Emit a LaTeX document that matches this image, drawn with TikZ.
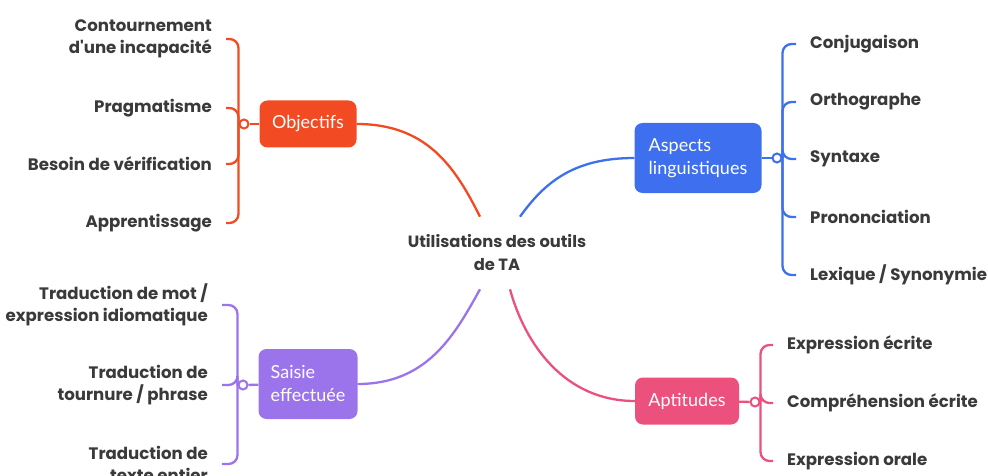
\documentclass[tikz,border=0pt]{standalone}
\usepackage{fontspec}
\setmainfont{Lato}
\newfontfamily\leaffont{Poppins}
\definecolor{objred}{HTML}{F24A22}
\definecolor{aspblue}{HTML}{3E6FEE}
\definecolor{saipurple}{HTML}{9B73EA}
\definecolor{aptpink}{HTML}{EC507D}
\definecolor{leafgray}{HTML}{3A3A3A}
\tikzset{
  topic/.style={rounded corners=8pt, text=white, align=left, inner xsep=12pt,
    minimum height=47pt, font=\fontsize{18}{23}\selectfont},
  hub/.style={circle, draw, fill=white, line width=2pt, minimum size=9pt, inner sep=0pt},
  leafl/.style={anchor=east, align=right, inner xsep=14pt, inner ysep=1pt,
    text=leafgray, font=\leaffont\bfseries\fontsize{16.6}{22}\selectfont},
  leafr/.style={leafl, anchor=west, align=left},
  link/.style={line width=2.3pt}
}

\begin{document}
\begin{tikzpicture}[x=1pt,y=-1pt]
  \useasboundingbox (0,0) rectangle (988,476);
  \node[text=leafgray, align=center, inner ysep=18pt,
    font=\leaffont\bfseries\fontsize{16.3}{23}\selectfont] (ta) at (497,253) {Utilisations des outils\\de TA};

  \node[topic, fill=objred, minimum width=97pt] (obj) at (308,124) {Objectifs};
  \node[topic, fill=saipurple, minimum width=99pt, minimum height=70pt] (sai) at (308,384) {Saisie\\effectuée};
  \node[topic, fill=aspblue, minimum width=127pt, minimum height=70pt] (asp) at (698,158) {Aspects\\linguistiques};
  \node[topic, fill=aptpink, minimum width=104pt] (apt) at (687,401) {Aptitudes};

  \node[hub, draw=objred] (oh) at (244,124) {};
  \node[hub, draw=saipurple] (sh) at (243,385) {};
  \node[hub, draw=aspblue] (ah) at (777,158) {};
  \node[hub, draw=aptpink] (ph) at (755,402) {};

  \node[leafl] (o1) at (226,39)  {Contournement\\d'une incapacité};
  \node[leafl] (o2) at (226,108) {Pragmatisme};
  \node[leafl] (o3) at (226,164) {Besoin de vérification};
  \node[leafl] (o4) at (226,223) {Apprentissage};
  \node[leafl] (s1) at (222,305) {Traduction de mot /\\expression idiomatique};
  \node[leafl] (s2) at (222,385) {Traduction de\\tournure / phrase};
  \node[leafl] (s3) at (222,464) {Traduction de\\texte entier};
  \node[leafr] (a1) at (796,44)  {Conjugaison};
  \node[leafr] (a2) at (796,102) {Orthographe};
  \node[leafr] (a3) at (796,159) {Syntaxe};
  \node[leafr] (a4) at (796,217) {Prononciation};
  \node[leafr] (a5) at (796,275) {Lexique / Synonymie};
  \node[leafr] (p1) at (773,345) {Expression écrite};
  \node[leafr] (p2) at (773,403) {Compréhension écrite};
  \node[leafr] (p3) at (773,461) {Expression orale};

  \draw[link, objred] (obj.east) .. controls +(70,0) and +(-25,-50) .. ([xshift=-17pt]ta.north);
  \draw[link, aspblue] ([xshift=23pt]ta.north) .. controls +(25,-35) and +(-60,0) .. (asp.west);
  \draw[link, saipurple] (sai.east) .. controls +(70,0) and +(-25,45) .. ([xshift=-17pt]ta.south);
  \draw[link, aptpink] ([xshift=13pt]ta.south) .. controls +(15,55) and +(-70,0) .. (apt.west);

  \foreach \from/\to/\col in {obj/oh/objred,sai/sh/saipurple,asp/ah/aspblue,apt/ph/aptpink}
    \draw[link, \col] (\from) -- (\to);
  \foreach \from/\to/\col in {oh/o1/objred,oh/o2/objred,oh/o3/objred,oh/o4/objred,sh/s1/saipurple,sh/s2/saipurple,sh/s3/saipurple}
    \draw[link, \col, rounded corners=9pt] (\from.west) |- (\to.east);
  \foreach \from/\to/\col in {ah/a1/aspblue,ah/a2/aspblue,ah/a3/aspblue,ah/a4/aspblue,ah/a5/aspblue,ph/p1/aptpink,ph/p2/aptpink,ph/p3/aptpink}
    \draw[link, \col, rounded corners=9pt] (\from.east) |- (\to.west);
\end{tikzpicture}
\end{document}
